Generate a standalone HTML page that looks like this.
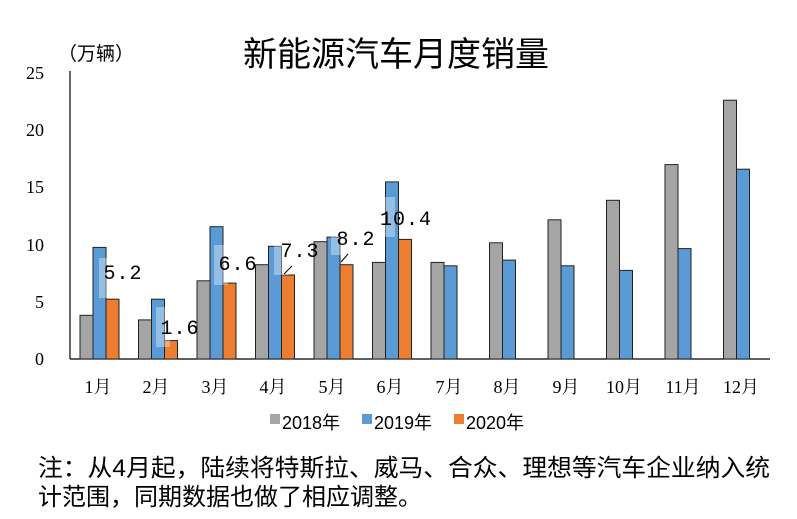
<!DOCTYPE html><html><head><meta charset="utf-8"><style>
body{margin:0;background:#fff;}
</style></head><body>
<svg width="797" height="514" xmlns="http://www.w3.org/2000/svg" font-family="'Liberation Serif','Noto Serif CJK SC',serif">
<rect width="797" height="514" fill="#fff"/>
<text x="396" y="66" font-size="34" text-anchor="middle" font-family="'Liberation Sans','Noto Sans CJK SC',sans-serif">新能源汽车月度销量</text>
<text x="58" y="60" font-size="19" font-family="'Liberation Sans','Noto Sans CJK SC',sans-serif">（万辆）</text>
<g font-size="18" text-anchor="end">
<text x="44" y="365">0</text><text x="44" y="308">5</text><text x="44" y="251">10</text><text x="44" y="193">15</text><text x="44" y="136">20</text><text x="44" y="79">25</text>
</g>
<line x1="70" y1="71" x2="70" y2="359" stroke="#000" stroke-width="1.2"/>
<line x1="70" y1="359" x2="770" y2="359" stroke="#000" stroke-width="1.2"/>
<g stroke="#222" stroke-width="1">
<g fill="#a5a5a5">
<rect x="80" y="315.3" width="13" height="43.7"/>
<rect x="138.5" y="319.9" width="13" height="39.1"/>
<rect x="197" y="280.8" width="13" height="78.2"/>
<rect x="255.5" y="264.7" width="13" height="94.3"/>
<rect x="314" y="241.7" width="13" height="117.3"/>
<rect x="372.5" y="262.4" width="13" height="96.6"/>
<rect x="431" y="262.4" width="13" height="96.6"/>
<rect x="489.5" y="242.8" width="13" height="116.2"/>
<rect x="548" y="219.8" width="13" height="139.2"/>
<rect x="606.5" y="200.3" width="13" height="158.7"/>
<rect x="665" y="164.6" width="13" height="194.4"/>
<rect x="723.5" y="100.2" width="13" height="258.8"/>
</g>
<g fill="#5b9bd5">
<rect x="93" y="247.4" width="13" height="111.6"/>
<rect x="151.5" y="299.2" width="13" height="59.8"/>
<rect x="210" y="226.7" width="13" height="132.3"/>
<rect x="268.5" y="246.3" width="13" height="112.7"/>
<rect x="327" y="237.1" width="13" height="121.9"/>
<rect x="385.5" y="181.9" width="13" height="177.1"/>
<rect x="444" y="265.8" width="13" height="93.2"/>
<rect x="502.5" y="260.1" width="13" height="98.9"/>
<rect x="561" y="265.8" width="13" height="93.2"/>
<rect x="619.5" y="270.4" width="13" height="88.6"/>
<rect x="678" y="248.6" width="13" height="110.4"/>
<rect x="736.5" y="169.2" width="13" height="189.8"/>
</g>
<g fill="#ed7d31">
<rect x="106" y="299.2" width="13" height="59.8"/>
<rect x="164.5" y="340.6" width="13" height="18.4"/>
<rect x="223" y="283.1" width="13" height="75.9"/>
<rect x="281.5" y="275" width="13" height="84"/>
<rect x="340" y="264.7" width="13" height="94.3"/>
<rect x="398.5" y="239.4" width="13" height="119.6"/>
</g>
</g>
<g fill="#fff" opacity="0.35">
<rect x="99" y="258" width="14" height="40"/>
<rect x="156" y="307" width="14" height="40"/>
<rect x="214" y="245" width="14" height="40"/>
<rect x="274" y="245" width="14" height="30"/>
<rect x="331" y="225" width="14" height="30"/>
<rect x="381" y="197" width="14" height="40"/>
</g>
<g font-size="20" font-family="'Liberation Mono',monospace" letter-spacing="1" text-anchor="middle">
<text x="123" y="279">5.2</text>
<text x="180" y="334">1.6</text>
<text x="238" y="270">6.6</text>
<text x="300" y="257">7.3</text>
<text x="356" y="245">8.2</text>
<text x="406" y="225">10.4</text>
</g>
<line x1="284" y1="274" x2="292" y2="266" stroke="#000"/><line x1="341" y1="262" x2="348" y2="254" stroke="#000"/>
<g font-size="18" text-anchor="middle">
<text x="98" y="393">1月</text><text x="156" y="393">2月</text><text x="215" y="393">3月</text><text x="273" y="393">4月</text><text x="332" y="393">5月</text><text x="390" y="393">6月</text><text x="449" y="393">7月</text><text x="507" y="393">8月</text><text x="566" y="393">9月</text><text x="624" y="393">10月</text><text x="683" y="393">11月</text><text x="741" y="393">12月</text>
</g>
<g font-family="'Liberation Sans','Noto Sans CJK SC',sans-serif">
<rect x="270" y="414" width="10" height="10" fill="#a5a5a5"/><text x="282" y="429" font-size="18">2018年</text>
<rect x="362" y="414" width="10" height="10" fill="#5b9bd5"/><text x="374" y="429" font-size="18">2019年</text>
<rect x="454" y="414" width="10" height="10" fill="#ed7d31"/><text x="466" y="429" font-size="18">2020年</text>
<text x="38" y="476" font-size="24" textLength="732" lengthAdjust="spacingAndGlyphs">注：从4月起，陆续将特斯拉、威马、合众、理想等汽车企业纳入统</text>
<text x="38" y="505" font-size="24">计范围，同期数据也做了相应调整。</text>
</g>
</svg>
</body></html>
